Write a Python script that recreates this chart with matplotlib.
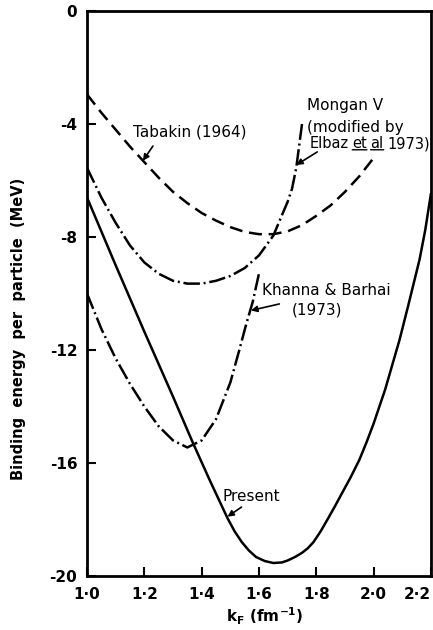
import matplotlib
matplotlib.use("Agg")
import matplotlib.pyplot as plt

# Binding energy per particle (MeV) against Fermi momentum k_F (fm^-1)
kf_tabakin = [1.0, 1.05, 1.1, 1.15, 1.2, 1.25, 1.3, 1.35, 1.4, 1.45, 1.5,
              1.55, 1.6, 1.65, 1.7, 1.75, 1.8, 1.85, 1.9, 1.95, 2.0]
be_tabakin = [-2.95, -3.6, -4.2, -4.8, -5.35, -5.9, -6.4, -6.8, -7.15, -7.42, -7.65,
              -7.82, -7.9, -7.9, -7.8, -7.58, -7.25, -6.88, -6.4, -5.85, -5.2]

kf_mongan = [1.0, 1.05, 1.1, 1.15, 1.2, 1.25, 1.3, 1.35, 1.4, 1.45, 1.5,
             1.55, 1.6, 1.65, 1.7, 1.715, 1.73, 1.75]
be_mongan = [-5.55, -6.6, -7.5, -8.3, -8.9, -9.3, -9.55, -9.65, -9.65, -9.55, -9.38,
             -9.1, -8.65, -7.95, -6.75, -6.3, -5.55, -4.0]

kf_khanna = [1.0, 1.05, 1.1, 1.15, 1.2, 1.25, 1.3, 1.35, 1.4, 1.45, 1.5,
             1.53, 1.555, 1.578, 1.602]
be_khanna = [-10.0, -11.25, -12.3, -13.2, -14.0, -14.7, -15.2, -15.45, -15.2, -14.45, -13.15,
             -12.05, -11.1, -10.3, -9.2]

kf_present = [1.0, 1.1, 1.2, 1.3, 1.37, 1.43, 1.49, 1.515, 1.54, 1.565, 1.59, 1.62,
              1.65, 1.68, 1.7, 1.725, 1.75, 1.77, 1.79, 1.815, 1.84, 1.865, 1.89,
              1.92, 1.95, 1.975, 2.0, 2.04, 2.09, 2.12, 2.16, 2.18, 2.2]
be_present = [-6.6, -9.0, -11.35, -13.65, -15.3, -16.65, -17.95, -18.42, -18.8, -19.1, -19.33, -19.47,
              -19.54, -19.52, -19.45, -19.33, -19.18, -19.02, -18.8, -18.42, -17.98, -17.53, -17.06,
              -16.5, -15.89, -15.27, -14.6, -13.4, -11.65, -10.45, -8.8, -7.75, -6.45]

x_ticks = [1.0, 1.2, 1.4, 1.6, 1.8, 2.0, 2.2]
x_tick_labels = ["1·0", "1·2", "1·4", "1·6", "1·8", "2·0", "2·2"]
y_ticks = [0, -4, -8, -12, -16, -20]
y_tick_labels = ["0", "-4", "-8", "-12", "-16", "-20"]

plt.rcParams["font.family"] = "DejaVu Sans"
plt.rcParams["mathtext.default"] = "regular"

fig = plt.figure(figsize=(4.33, 6.3), dpi=100)
ax = fig.add_axes([87 / 433, 54 / 630, (431 - 87) / 433, (576 - 11) / 630])

lw = 1.8
dash = (0, (5.2, 2.7))
dashdot = (0, (6.6, 1.5, 0.8, 1.5))
ax.plot(kf_tabakin, be_tabakin, color="k", lw=lw, linestyle=dash)
ax.plot(kf_mongan, be_mongan, color="k", lw=lw, linestyle=dashdot)
ax.plot(kf_khanna, be_khanna, color="k", lw=lw, linestyle=dashdot)
ax.plot(kf_present, be_present, color="k", lw=lw, solid_capstyle="butt",
        solid_joinstyle="round")

ax.set_xlim(1.0, 2.2)
ax.set_ylim(-20, 0)
ax.set_xticks(x_ticks)
ax.set_xticklabels(x_tick_labels)
ax.set_yticks(y_ticks)
ax.set_yticklabels(y_tick_labels)
ax.tick_params(direction="in", length=6.5, width=1.5, labelsize=11, pad=8)
ax.tick_params(axis="y", pad=7)
for lab in ax.get_xticklabels() + ax.get_yticklabels():
    lab.set_fontweight("bold")
# last x label sits against the figure edge
ax.get_xticklabels()[-1].set_horizontalalignment("right")
for sp in ax.spines.values():
    sp.set_linewidth(2)

fig.text(0.042, 0.478, "Binding  energy  per  particle  (MeV)", rotation=90,
         ha="center", va="center", fontsize=10.5, fontweight="bold")
fig.text(0.612, 0.021, r"k$_F$ (fm$^{-1}$)", ha="center", va="center",
         fontsize=11, fontweight="bold")

arrow = dict(arrowstyle="-|>", color="k", lw=1.2, mutation_scale=9,
             shrinkA=0, shrinkB=0)
fs = 11

# curve labels
ax.text(1.160, -4.28, "Tabakin (1964)", ha="left", va="center", fontsize=fs)
ax.annotate("", xy=(1.195, -5.3), xytext=(1.230, -4.78), arrowprops=arrow)

ax.text(1.769, -3.36, "Mongan V", ha="left", va="center", fontsize=fs)
ax.text(1.769, -4.14, "(modified by", ha="left", va="center", fontsize=fs)
fs_e = 10.5
t_elbaz = ax.text(1.776, -4.70, "Elbaz", ha="left", va="center", fontsize=fs_e)
t_et = ax.annotate("et", xy=(1, 0), xycoords=t_elbaz, xytext=(2.6, 0),
                   textcoords="offset points", ha="left", va="bottom", fontsize=fs_e)
t_al = ax.annotate("al", xy=(1, 0), xycoords=t_et, xytext=(2.6, 0),
                   textcoords="offset points", ha="left", va="bottom", fontsize=fs_e)
ax.annotate("1973)", xy=(1, 0), xycoords=t_al, xytext=(2.6, 0),
            textcoords="offset points", ha="left", va="bottom", fontsize=fs_e)
for t in (t_et, t_al):
    ax.annotate("", xy=(0, 0.1), xycoords=t, xytext=(1, 0.1), textcoords=t,
                arrowprops=dict(arrowstyle="-", color="k", lw=1, shrinkA=0, shrinkB=0))
ax.annotate("", xy=(1.730, -5.45), xytext=(1.803, -4.99), arrowprops=arrow)

ax.text(1.609, -9.91, "Khanna & Barhai", ha="left", va="center", fontsize=fs)
ax.text(1.713, -10.58, "(1973)", ha="left", va="center", fontsize=fs)
ax.annotate("", xy=(1.572, -10.6), xytext=(1.671, -10.37), arrowprops=arrow)

ax.text(1.473, -17.2, "Present", ha="left", va="center", fontsize=fs)
ax.annotate("", xy=(1.490, -17.9), xytext=(1.539, -17.56), arrowprops=arrow)

fig.savefig("out.png", dpi=100)
